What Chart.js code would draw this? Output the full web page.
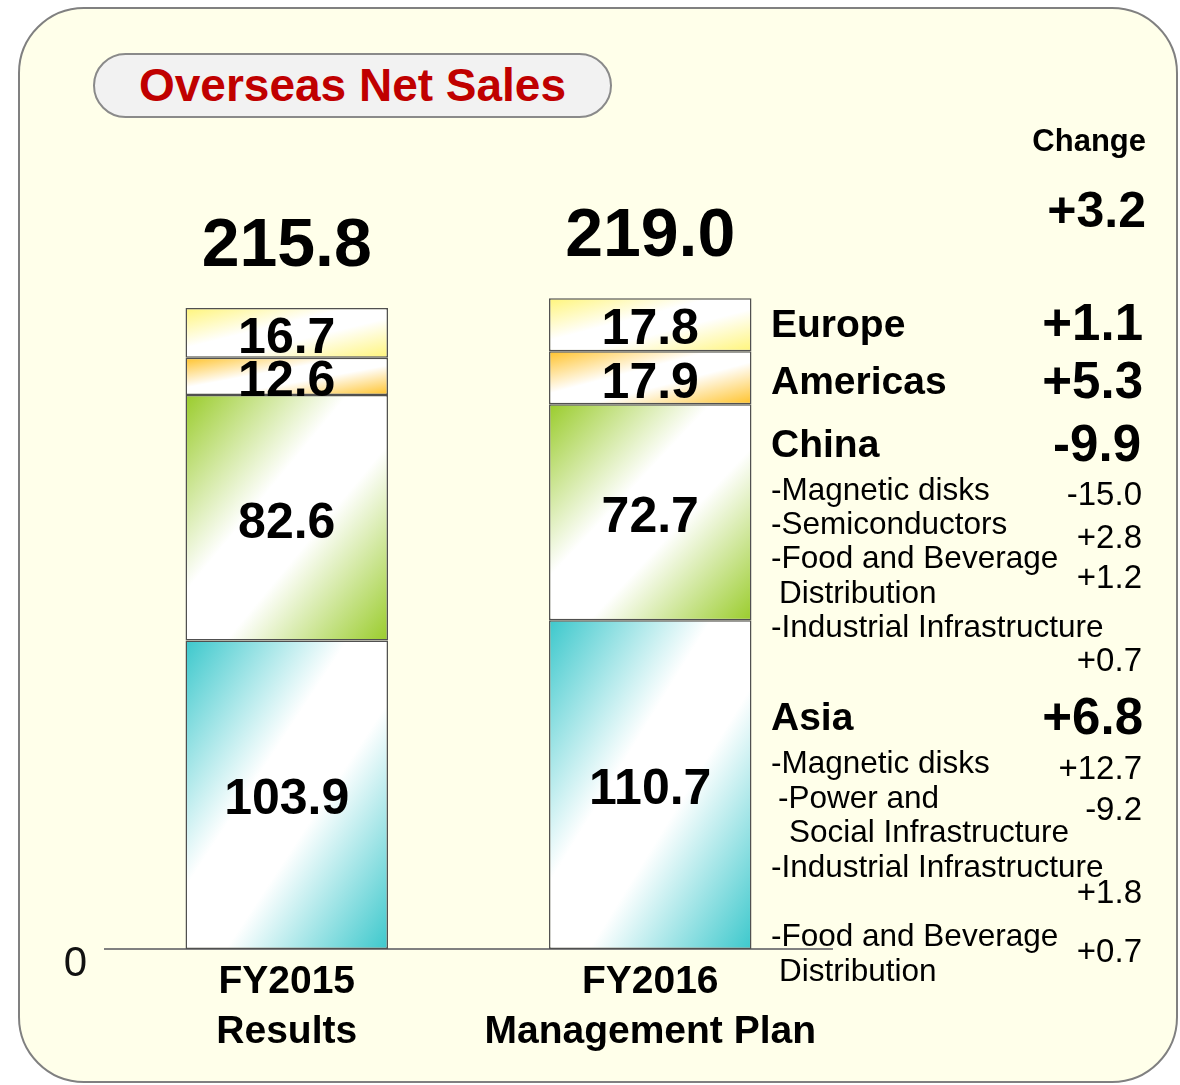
<!DOCTYPE html>
<html lang="en">
<head>
<meta charset="UTF-8">
<title>Overseas Net Sales</title>
<script src="https://cdn.jsdelivr.net/npm/chart.js@4.4.0/dist/chart.umd.min.js"></script>
<style>
    html, body { margin: 0; padding: 0; background: #fff; }
    body { width: 1180px; height: 1085px; position: relative; overflow: hidden; font-family: "Liberation Sans", Arial, sans-serif; }
    .panel { position: absolute; left: 18px; top: 7px; width: 1160px; height: 1076px; box-sizing: border-box; border: 2px solid #808080; border-radius: 66px; background: #FFFFEA; }
    .pill { position: absolute; left: 93px; top: 53px; width: 519px; height: 65px; box-sizing: border-box; border: 2px solid #8a8a8a; border-radius: 33px; background: #F2F2F2; color: #C00000; font-weight: bold; font-size: 46px; text-align: center; line-height: 61px; }
    #wrap { position: absolute; left: 0; top: 0; width: 1180px; height: 1085px; }
    .t { position: absolute; color: #000; white-space: nowrap; line-height: 1; }
    .b { font-weight: bold; }
    .sub { font-size: 31.5px; }
    .num { font-size: 33px; right: 38px; }
    .big { font-size: 51px; font-weight: bold; }
    .reg { font-size: 39px; font-weight: bold; left: 771px; }
</style>
</head>
<body>
    <div class="panel"></div>
    <div class="pill">Overseas Net Sales</div>
    <div id="wrap"><canvas id="chart" width="1180" height="1085"></canvas></div>

    <!-- change column on the right -->
    <div class="t b" style="font-size:31px; right:34px; top:125px;">Change</div>
    <div class="t b" style="font-size:50px; right:34px; top:185px;">+3.2</div>

    <div class="t reg" style="top:304px;">Europe</div>
    <div class="t big" style="right:37px; top:297px;">+1.1</div>
    <div class="t reg" style="top:361px;">Americas</div>
    <div class="t big" style="right:37px; top:355px;">+5.3</div>
    <div class="t reg" style="top:424px;">China</div>
    <div class="t big" style="right:39px; top:418px;">-9.9</div>

    <div class="t sub" style="left:771px; top:474px;">-Magnetic disks</div>
    <div class="t num" style="top:477px;">-15.0</div>
    <div class="t sub" style="left:771px; top:508px;">-Semiconductors</div>
    <div class="t num" style="top:520px;">+2.8</div>
    <div class="t sub" style="left:771px; top:542px;">-Food and Beverage</div>
    <div class="t sub" style="left:779px; top:577px;">Distribution</div>
    <div class="t num" style="top:560px;">+1.2</div>
    <div class="t sub" style="left:771px; top:611px;">-Industrial Infrastructure</div>
    <div class="t num" style="top:643px;">+0.7</div>

    <div class="t reg" style="top:697px;">Asia</div>
    <div class="t big" style="right:37px; top:691px;">+6.8</div>
    <div class="t sub" style="left:771px; top:747px;">-Magnetic disks</div>
    <div class="t num" style="top:751px;">+12.7</div>
    <div class="t sub" style="left:778px; top:782px;">-Power and</div>
    <div class="t num" style="top:792px;">-9.2</div>
    <div class="t sub" style="left:789px; top:816px;">Social Infrastructure</div>
    <div class="t sub" style="left:771px; top:851px;">-Industrial Infrastructure</div>
    <div class="t num" style="top:875px;">+1.8</div>
    <div class="t sub" style="left:771px; top:920px;">-Food and Beverage</div>
    <div class="t sub" style="left:779px; top:955px;">Distribution</div>
    <div class="t num" style="top:934px;">+0.7</div>

    <script>
        const categories = [['FY2015', 'Results'], ['FY2016', 'Management Plan']];
        const asia = [103.9, 110.7];
        const china = [82.6, 72.7];
        const americas = [12.6, 17.9];
        const europe = [16.7, 17.8];
        const totals = [215.8, 219.0];

        Chart.defaults.font.family = '"Liberation Sans", Arial, sans-serif';

        // corner gradient scaled to the box: colour -> white -> colour,
        // isolines run parallel to the top-right / bottom-left diagonal
        function diag(color) {
            return function (ctx) {
                const el = ctx.element;
                if (!el || !isFinite(el.x) || !isFinite(el.base) || !isFinite(el.width)) return color;
                const w = el.width;
                const h = Math.max(Math.abs(el.base - el.y), 1);
                const l = el.x - w / 2;
                const t = Math.min(el.y, el.base);
                const ax = 1 / (2 * w), ay = 1 / (2 * h);
                const n = ax * ax + ay * ay;
                const g = ctx.chart.ctx.createLinearGradient(l, t, l + ax / n, t + ay / n);
                g.addColorStop(0, color);
                g.addColorStop(0.4, '#ffffff');
                g.addColorStop(0.6, '#ffffff');
                g.addColorStop(1, color);
                return g;
            };
        }

        const barLabels = {
            id: 'barLabels',
            afterDatasetsDraw(chart) {
                const c = chart.ctx;
                c.save();
                c.fillStyle = '#000';
                c.textAlign = 'center';
                c.textBaseline = 'middle';
                c.font = 'bold 50px "Liberation Sans", Arial, sans-serif';
                chart.data.datasets.forEach((ds, i) => {
                    chart.getDatasetMeta(i).data.forEach((el, j) => {
                        c.fillText(ds.data[j].toFixed(1), el.x, (el.y + el.base) / 2 + 6);
                    });
                });
                const last = chart.getDatasetMeta(chart.data.datasets.length - 1).data;
                c.font = 'bold 68px "Liberation Sans", Arial, sans-serif';
                last.forEach((el, j) => c.fillText(totals[j].toFixed(1), el.x, el.y - 61));
                c.restore();
            }
        };

        const chart = new Chart(document.getElementById('chart'), {
            type: 'bar',
            data: {
                labels: categories,
                datasets: [
                    { label: 'Asia', data: asia, backgroundColor: diag('#3CC8CC') },
                    { label: 'China', data: china, backgroundColor: diag('#9ACC2C') },
                    { label: 'Americas', data: americas, backgroundColor: diag('#FFC229') },
                    { label: 'Europe', data: europe, backgroundColor: diag('#FFF57A') }
                ]
            },
            options: {
                responsive: false,
                animation: false,
                layout: { padding: { top: 58, right: 348, left: 0, bottom: 0 } },
                plugins: { legend: { display: false }, tooltip: { enabled: false } },
                datasets: {
                    bar: { borderColor: '#505050', borderWidth: 1.5, borderSkipped: false, barPercentage: 0.557, categoryPercentage: 1 }
                },
                scales: {
                    x: {
                        stacked: true,
                        grid: { display: false },
                        border: { display: true, color: '#808080', width: 2 },
                        ticks: { color: '#000', font: { size: 39, weight: 'bold', lineHeight: 1.28 }, padding: 0, maxRotation: 0 },
                        afterFit(s) { s.height = 136; }
                    },
                    y: {
                        stacked: true, min: 0, max: 300,
                        grid: { display: false, drawTicks: false },
                        border: { display: false },
                        ticks: { stepSize: 100, callback: v => v === 0 ? '0' : '', color: '#111', font: { size: 42 }, padding: 18, labelOffset: 15 },
                        afterFit(s) { s.width = 105; }
                    }
                }
            },
            plugins: [barLabels]
        });
        // second pass so the gradients can read the bar positions
        chart.update();
    </script>
</body>
</html>
